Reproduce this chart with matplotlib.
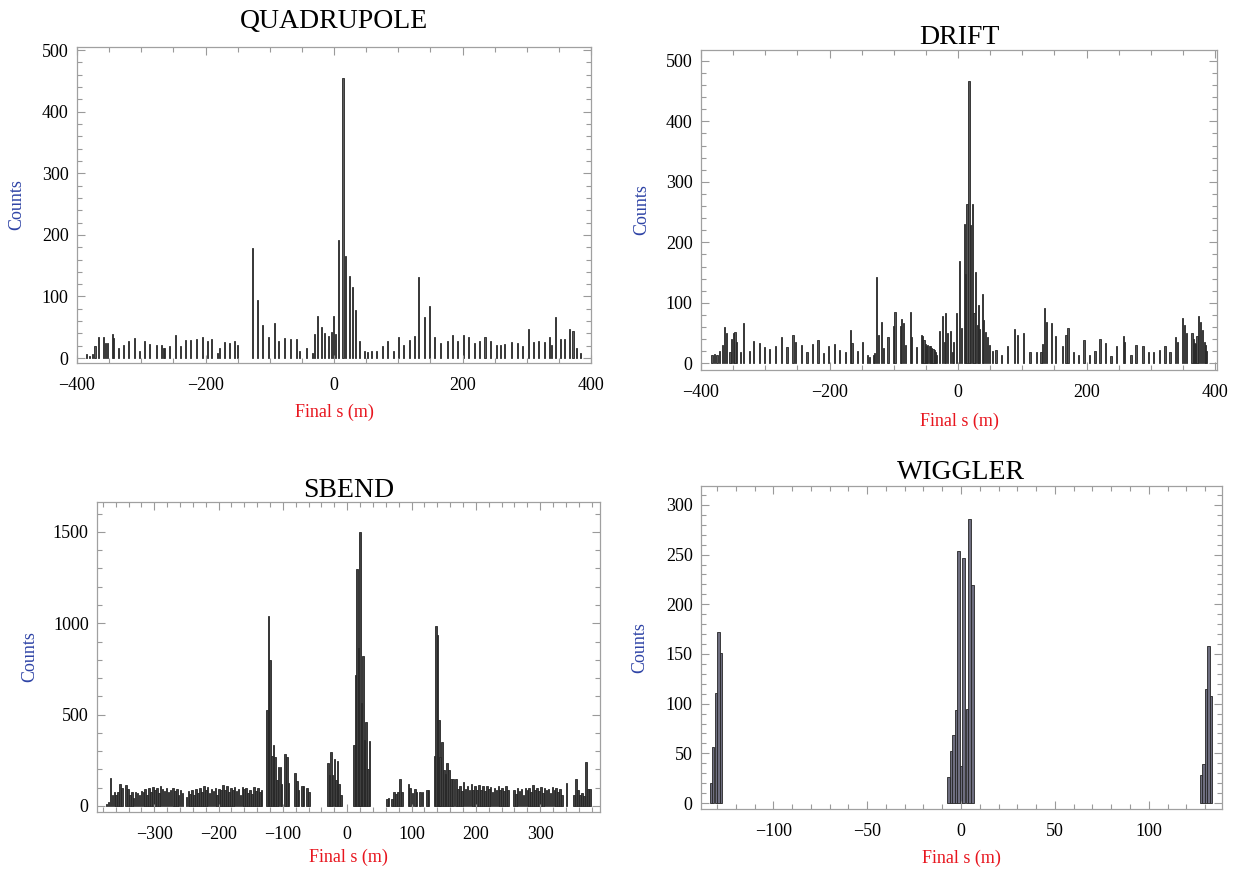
"""Final-s histograms per element type (four panels)."""
import matplotlib

matplotlib.use("Agg")
import matplotlib.pyplot as plt
from matplotlib.ticker import MultipleLocator

plt.rcParams["font.family"] = ["Liberation Serif", "DejaVu Serif"]

# ---- data: bin centre (m) and counts ----
quad_s = [-385, -380, -376, -372, -366, -358, -355, -353, -345, -343, -335, -327, -320, -311,
          -303, -295, -287, -277, -269, -266, -264, -256, -247, -239, -231, -223, -214, -205,
          -197, -190, -181, -178, -170, -163, -155, -150, -127, -119, -111, -102, -92, -86,
          -77, -67, -59, -53, -43, -34, -30, -25, -20, -15, -9, -4, -1, 3, 7, 14, 18, 24,
          29, 34, 40, 47, 52, 58, 66, 75, 84, 92, 101, 108, 118, 126, 132, 141, 149, 157,
          166, 176, 184, 192, 201, 209, 218, 226, 235, 244, 253, 259, 266, 277, 285, 294,
          302, 310, 319, 327, 335, 338, 345, 352, 359, 366, 372, 378, 384]
quad_n = [7, 4, 7, 20, 34, 35, 24, 24, 39, 32, 17, 22, 27, 32,
          12, 27, 23, 22, 22, 16, 16, 20, 38, 20, 30, 30, 31, 35,
          28, 31, 8, 16, 26, 24, 28, 22, 179, 94, 54, 35, 57, 28,
          32, 31, 31, 12, 16, 8, 39, 69, 51, 40, 36, 43, 69, 39, 192, 454, 166, 133,
          115, 78, 28, 12, 10, 12, 12, 19, 27, 12, 35, 22, 30, 36, 132, 66, 85, 35,
          25, 27, 38, 28, 37, 35, 25, 27, 35, 28, 22, 22, 23, 26, 24, 19,
          48, 26, 28, 26, 34, 22, 67, 31, 31, 47, 44, 16, 8]

drift_s = [-383, -379, -375, -371, -367, -364, -360, -355, -352, -349, -347, -345, -338, -334,
           -325, -318, -309, -301, -293, -284, -275, -266, -257, -253, -244, -235, -227, -218,
           -209, -201, -192, -184, -175, -167, -165, -157, -149, -141, -138, -132, -130, -127,
           -124, -119, -116, -109, -100, -98, -89, -88, -85, -82, -74, -73, -65,
           -57, -55, -53, -51, -49, -47, -45, -43, -41, -39, -37, -35, -33,
           -29, -24, -21, -19, -16, -12, -9, -7, -2, 2, 5, 10, 12, 14,
           17, 19, 22, 25, 27, 30, 32, 34, 38, 40, 43, 46, 49, 54, 59, 68, 77, 88, 93, 102,
           112, 122, 129, 132, 135, 138, 145, 152, 162, 168, 171, 180, 188, 196, 205, 213, 221,
           229, 238, 246, 257, 259, 269, 277, 288, 297, 304, 313, 322, 330, 338, 341, 349, 352,
           355, 364, 366, 368, 370, 372, 374, 377, 380, 383, 385, 387]
drift_n = [14, 15, 14, 20, 30, 60, 50, 19, 40, 50, 51, 36, 19, 66,
           20, 37, 34, 27, 23, 29, 43, 27, 47, 36, 30, 18, 32, 39,
           17, 29, 32, 22, 18, 55, 34, 21, 35, 14, 10, 14, 17, 143,
           47, 68, 25, 43, 61, 85, 61, 74, 66, 30, 85, 43, 27,
           47, 45, 39, 32, 28, 30, 29, 28, 25, 23, 22, 19, 14,
           54, 78, 36, 84, 50, 54, 19, 36, 84, 170, 59, 230, 147, 264,
           466, 228, 264, 83, 151, 63, 97, 56, 115, 72, 51, 43, 30, 21, 22, 14, 29, 57, 47, 50,
           18, 18, 18, 32, 92, 69, 66, 45, 29, 47, 59, 19, 14, 39, 14, 21, 40,
           33, 12, 29, 46, 36, 14, 30, 28, 19, 18, 22, 29, 19, 44, 35, 75, 63,
           50, 50, 40, 33, 32, 45, 78, 69, 55, 36, 30, 21]

sbend_s = [-374, -371, -368, -365, -362, -359, -356, -353, -350,
           -344, -341, -338, -335,
           -332, -329, -326, -323, -320, -317, -314, -311, -308, -305, -302, -299, -296, -293,
           -290, -287, -284, -281, -278, -275,
           -271, -268, -265, -262, -259, -256,
           -250, -247, -244, -241, -238, -235, -232, -229, -226, -223, -220, -217, -214, -211,
           -208, -205, -202, -199, -196, -193, -190, -187, -184, -181, -178, -175, -172, -169,
           -166, -163, -160, -157, -154, -151, -148, -145, -142, -139, -136, -133,
           -125, -122.5, -120, -117, -114.5, -112, -109, -107, -104, -102, -96.5, -94, -91.5,
           -81, -78, -75.5, -70, -68, -62.5, -59,
           -30, -27.5, -25.5, -23, -20, -17.5, -15, -12.5, -10,
           11, 13, 15, 18, 20, 22, 24.5, 27, 29.5, 32, 34.5,
           61.5, 64, 69.5, 73, 75.5, 79, 82.5, 85,
           95, 98, 101.5, 105.5, 108, 113.5, 117, 124, 126.5,
           136, 138, 140.5, 142.5, 144.5, 147.5, 150, 152.5, 155, 158, 161.5, 164,
           169, 172, 175, 178, 181, 184, 187, 190, 193, 196, 199, 202, 205, 208,
           211, 214, 217, 220, 223, 226, 229, 232, 235, 238, 241, 244, 247, 250,
           259, 262, 265, 268, 271, 274, 277, 280, 283, 286, 289, 292, 295, 298,
           301, 304, 307, 310, 313, 316, 319, 322, 325, 328, 331, 334, 341,
           353, 356, 359, 362, 365, 368, 371, 374, 377]
sbend_n = [10, 20, 155, 60, 77, 60, 77, 122, 99,
           113, 95, 60, 77,
           45, 77, 70, 60, 80, 75, 95, 60, 100, 75, 105, 85, 100, 70,
           110, 95, 80, 100, 75, 90,
           100, 80, 95, 60, 90, 70,
           50, 80, 65, 90, 60, 95, 70, 100, 75, 110, 85, 105, 70, 95,
           80, 100, 60, 95, 85, 115, 90, 110, 75, 100, 85, 105, 80, 95,
           60, 105, 95, 100, 70, 90, 65, 105, 80, 100, 75, 90,
           525, 1040, 800, 274, 333, 269, 140, 214, 214, 122, 287, 269, 126,
           183, 135, 86, 108, 108, 99, 77,
           236, 168, 293, 168, 256, 141, 247, 122, 58,
           333, 717, 1298, 863, 1500, 561, 821, 360, 461, 205, 357,
           40, 46, 40, 77, 68, 77, 150, 77,
           119, 99, 70, 91, 77, 77, 77, 86, 86,
           274, 986, 936, 470, 269, 351, 199, 177, 236, 196, 150, 150,
           150, 95, 110, 80, 130, 95, 110, 85, 120, 90, 110, 85, 115, 90,
           110, 80, 110, 95, 105, 75, 100, 90, 110, 85, 100, 80, 110, 90,
           90, 65, 100, 80, 95, 60, 100, 85, 100, 75, 115, 90, 100, 80,
           105, 70, 100, 85, 95, 70, 105, 90, 100, 75, 95, 60, 126,
           60, 150, 90, 60, 70, 55, 241, 95, 95]

wig_s = [-133.3, -132.0, -130.6, -129.2, -127.9,
         -6.6, -5.3, -4.0, -2.7, -1.4, -0.1, 1.2, 3.1, 4.5, 6.2,
         127.7, 129.1, 130.5, 131.9, 133.2]
wig_n = [20, 56, 111, 172, 151,
         26, 52, 68, 94, 254, 37, 247, 95, 286, 219,
         28, 39, 115, 158, 108]

W, H = 1239, 872
panels = [
    # title, s, n, bar width, frame px (left, top, right, bottom), xlim, ylim,
    # x major/minor, y major/minor, face colour, title y, xlabel y, ylabel x (px)
    ("QUADRUPOLE", quad_s, quad_n, 1.6, (77, 47, 591, 363), (-400, 400), (-8, 505),
     200, 50, 100, 20, "#5a5a5a", 22, 412, 17),
    ("DRIFT", drift_s, drift_n, 1.9, (701, 50, 1217, 370), (-400, 403), (-11, 518),
     200, 50, 100, 20, "#555555", 37, 421, 642),
    ("SBEND", sbend_s, sbend_n, 2.5, (97, 502, 600, 812), (-389, 393), (-33, 1664),
     100, 20, 500, 100, "#404040", 490, 857, 30),
    ("WIGGLER", wig_s, wig_n, 1.3, (701, 486, 1222, 809), (-138.5, 139), (-6, 319),
     50, 10, 50, 10, "#6e6e80", 472, 858, 640),
]

fig = plt.figure(figsize=(W / 100, H / 100), dpi=100)

for (title, s, n, bw, (l, t, r, b), xlim, ylim, xmaj, xmin, ymaj, ymin,
     fc, ty, xly, ylx) in panels:
    ax = fig.add_axes([l / W, 1 - b / H, (r - l) / W, (b - t) / H])
    ax.bar(s, n, width=bw, color=fc, edgecolor="#262626", linewidth=0.6)
    ax.set_xlim(*xlim)
    ax.set_ylim(*ylim)
    ax.xaxis.set_major_locator(MultipleLocator(xmaj))
    ax.xaxis.set_minor_locator(MultipleLocator(xmin))
    ax.yaxis.set_major_locator(MultipleLocator(ymaj))
    ax.yaxis.set_minor_locator(MultipleLocator(ymin))
    ax.tick_params(which="both", direction="in", top=True, right=True,
                   color="#9a9a9a", labelsize=13, width=0.8)
    ax.tick_params(which="major", length=6)
    ax.tick_params(which="minor", length=3.5)
    ax.tick_params(axis="x", pad=10)
    ax.tick_params(axis="y", pad=6)
    for sp in ax.spines.values():
        sp.set_color("#a0a0a0")
        sp.set_linewidth(0.9)

    cx = (l + r) / 2 / W
    fig.text(cx, 1 - ty / H, title, ha="center", va="center", fontsize=20)
    fig.text(cx, 1 - xly / H, "Final s (m)", ha="center", va="center",
             fontsize=13, color="#e8161f")
    fig.text(ylx / W, 1 - (t + b) / 2 / H, "Counts", ha="center", va="center",
             rotation=90, fontsize=13, color="#2f44a6")

fig.savefig("out.png", dpi=100)
